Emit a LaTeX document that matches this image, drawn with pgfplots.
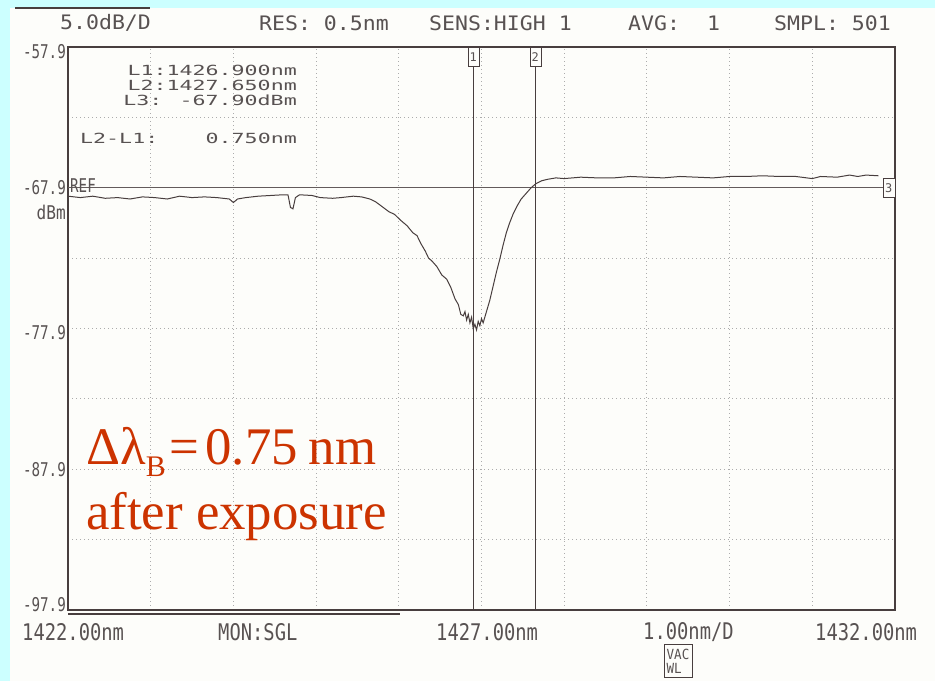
\documentclass[border=0pt]{standalone}
\usepackage{graphicx}
\usepackage{pgfplots}
\pgfplotsset{compat=1.18}
\usepackage{fontspec}
\setmainfont{Liberation Serif}
\newfontfamily\osa{DejaVu Sans Mono}
\definecolor{bgcyan}{RGB}{204,255,255}
\definecolor{paper}{RGB}{253,253,250}
\definecolor{ink}{RGB}{72,62,62}
\definecolor{txt}{RGB}{88,82,82}
\definecolor{redtxt}{RGB}{204,51,0}
\newcommand\hs[2]{\scalebox{#1}[1]{#2}}
\begin{document}
\begin{tikzpicture}[x=1bp,y=1bp]
\fill[bgcyan] (0,0) rectangle (935,681);
\fill[paper] (10,0) rectangle (935,673);
\draw[ink, line width=1.5bp] (15,673) -- (150,673);
\begin{axis}[at={(68bp,71bp)}, anchor=south west, scale only axis,
  width=827bp, height=563bp,
  xmin=1422, xmax=1432, ymin=-97.9, ymax=-57.9,
  xtick={1422,1423,1424,1425,1426,1427,1428,1429,1430,1431,1432},
  ytick={-97.9,-92.9,-87.9,-82.9,-77.9,-72.9,-67.9,-62.9,-57.9},
  xticklabels={}, yticklabels={}, major tick length=0,
  grid=major,
  major grid style={gray!65, dash pattern=on 1.3bp off 2.7bp, line width=0.9bp},
  axis line style={ink, line width=1.2bp},
  clip=false]
\addplot[ink!85, line width=0.9bp] coordinates {(1422,-67.9) (1432,-67.9)};
\addplot[ink, line width=1bp] coordinates {(1426.9,-97.9) (1426.9,-57.9)};
\addplot[ink, line width=1bp] coordinates {(1427.65,-97.9) (1427.65,-57.9)};
\addplot[ink, line width=1bp] coordinates {
(1422.00,-68.5) (1422.15,-68.6) (1422.3,-68.5) (1422.45,-68.65) (1422.6,-68.6)
(1422.75,-68.7) (1422.9,-68.55) (1423.05,-68.6) (1423.2,-68.7) (1423.35,-68.5)
(1423.5,-68.6) (1423.65,-68.55) (1423.8,-68.6) (1423.95,-68.7) (1424.0,-68.95)
(1424.05,-68.7) (1424.15,-68.6) (1424.3,-68.5) (1424.45,-68.45) (1424.6,-68.4)
(1424.66,-68.4) (1424.69,-69.3) (1424.72,-69.4) (1424.75,-68.6) (1424.8,-68.4)
(1424.95,-68.45) (1425.05,-68.6) (1425.2,-68.65) (1425.3,-68.6) (1425.45,-68.5)
(1425.55,-68.55) (1425.65,-68.7) (1425.72,-68.9) (1425.8,-69.25) (1425.88,-69.6)
(1425.95,-69.8) (1426.02,-70.2) (1426.1,-70.6) (1426.17,-71.1) (1426.22,-71.3)
(1426.27,-71.9) (1426.32,-72.4) (1426.36,-72.9) (1426.4,-73.1) (1426.46,-73.5)
(1426.52,-74.1) (1426.58,-74.4) (1426.63,-75.0) (1426.68,-75.8) (1426.72,-76.2)
(1426.75,-76.9) (1426.78,-77.0) (1426.80,-76.7) (1426.82,-77.3) (1426.84,-76.9)
(1426.86,-77.5) (1426.88,-77.1) (1426.90,-77.9) (1426.92,-77.6) (1426.94,-78.0)
(1426.96,-77.4) (1426.98,-77.7) (1427.00,-77.2) (1427.02,-77.5) (1427.04,-77.1)
(1427.07,-76.5) (1427.1,-75.9) (1427.14,-74.9) (1427.18,-73.9) (1427.22,-73.0)
(1427.26,-72.0) (1427.3,-71.1) (1427.34,-70.4) (1427.38,-69.8) (1427.43,-69.2)
(1427.48,-68.7) (1427.54,-68.3) (1427.6,-67.9) (1427.66,-67.6) (1427.73,-67.4)
(1427.8,-67.3) (1427.9,-67.2) (1428.0,-67.25) (1428.2,-67.15) (1428.4,-67.2)
(1428.6,-67.2) (1428.8,-67.1) (1429.0,-67.15) (1429.2,-67.2) (1429.4,-67.1)
(1429.6,-67.15) (1429.8,-67.2) (1430.0,-67.1) (1430.2,-67.1) (1430.4,-67.05)
(1430.6,-67.1) (1430.8,-67.1) (1431.0,-67.25) (1431.1,-67.1) (1431.3,-67.15)
(1431.45,-67.0) (1431.55,-67.1) (1431.65,-67.0) (1431.8,-67.05)};
\node[draw=ink, fill=paper, inner sep=0pt, minimum width=11bp, minimum height=19bp,
  font=\osa\fontsize{12}{12}\selectfont, text=txt, anchor=north] at (axis cs:1426.9,-57.9) {1};
\node[draw=ink, fill=paper, inner sep=0pt, minimum width=11bp, minimum height=19bp,
  font=\osa\fontsize{12}{12}\selectfont, text=txt, anchor=north] at (axis cs:1427.65,-57.9) {2};
\node[draw=ink, fill=paper, inner sep=0pt, minimum width=12bp, minimum height=19bp,
  font=\osa\fontsize{12}{12}\selectfont, text=txt, anchor=east] at (axis cs:1432,-67.9) {3};
\end{axis}
\draw[ink, line width=1.2bp] (68,67) -- (400,67);
% header
\begin{scope}[every node/.style={text=txt, inner sep=0pt, font=\osa\fontsize{20}{20}\selectfont}]
\node[anchor=west] at (60,658) {\hs{1.08}{5.0dB/D}};
\node[anchor=west] at (259,658) {\hs{1.08}{RES: 0.5nm}};
\node[anchor=west] at (429,658) {\hs{1.08}{SENS:HIGH 1}};
\node[anchor=west] at (628,658) {\hs{1.08}{AVG:}};
\node[anchor=west] at (707,658) {\hs{1.08}{1}};
\node[anchor=west] at (774,658) {\hs{1.08}{SMPL: 501}};
\end{scope}
% y labels
\begin{scope}[every node/.style={text=txt, inner sep=0pt, font=\osa\fontsize{19}{19}\selectfont}]
\node[anchor=east] at (66,629) {\hs{0.75}{-57.9}};
\node[anchor=east] at (66,493) {\hs{0.75}{-67.9}};
\node[anchor=east] at (66,469) {\hs{0.85}{dBm}};
\node[anchor=east] at (66,348) {\hs{0.75}{-77.9}};
\node[anchor=east] at (66,211) {\hs{0.75}{-87.9}};
\node[anchor=east] at (66,76) {\hs{0.75}{-97.9}};
\node[anchor=west] at (70,495) {\hs{0.75}{REF}};
\end{scope}
% x labels
\begin{scope}[every node/.style={text=txt, inner sep=0pt, font=\osa\fontsize{23}{23}\selectfont}]
\node[anchor=west] at (22,49) {\hs{0.82}{1422.00nm}};
\node[anchor=west] at (218,49) {\hs{0.82}{MON:SGL}};
\node[anchor=west] at (436,49) {\hs{0.82}{1427.00nm}};
\node[anchor=west] at (643,49) {\hs{0.82}{1.00nm/D}};
\node[anchor=west] at (815,49) {\hs{0.82}{1432.00nm}};
\end{scope}
\node[draw=ink, line width=1bp, text=txt, align=left, inner sep=2.5bp, minimum width=28bp, minimum height=33bp, font=\osa\fontsize{14}{14}\selectfont] at (678,20) {\hs{0.9}{VAC}\\\hs{0.9}{WL}};
% marker readout
\begin{scope}[every node/.style={text=txt, inner sep=0pt, font=\osa\fontsize{14}{14}\selectfont}]
\node[anchor=east] at (297,611) {\hs{1.55}{L1:1426.900nm}};
\node[anchor=east] at (297,596) {\hs{1.55}{L2:1427.650nm}};
\node[anchor=east] at (297,581) {\hs{1.55}{L3: -67.90dBm}};
\node[anchor=west] at (80,543) {\hs{1.55}{L2-L1:}};
\node[anchor=east] at (297,543) {\hs{1.55}{0.750nm}};
\end{scope}
% red annotation
\node[anchor=base west, inner sep=0pt, text=redtxt, font=\fontsize{53}{53}\selectfont] at (86,216)
  {Δλ\raisebox{-0.22em}{\fontsize{30}{30}\selectfont B}\kern4bp=\kern6bp0.75\kern11bp nm};
\node[anchor=base west, inner sep=0pt, text=redtxt, font=\fontsize{53}{53}\selectfont] at (86,151)
  {after exposure};
\end{tikzpicture}
\end{document}
